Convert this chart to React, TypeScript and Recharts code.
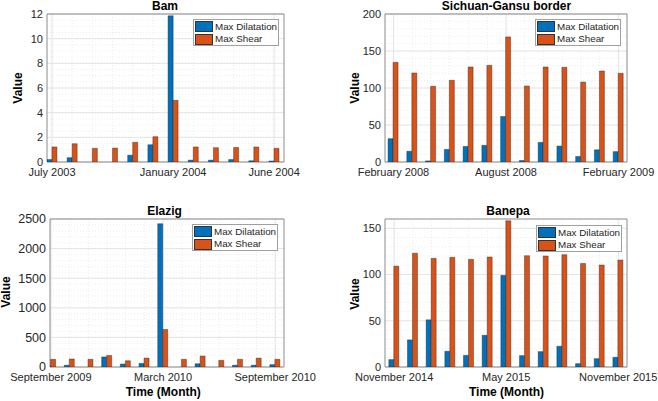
import React from 'react';
import { BarChart, Bar, XAxis, YAxis, CartesianGrid } from 'recharts';

const BLUE = '#0072BD';
const ORANGE = '#D95319';
const TEXT = '#262626';
const FONT = '"Liberation Sans", Arial, Helvetica, sans-serif';

// Bam
const bamMonths = ['July 2003', 'August 2003', 'September 2003', 'October 2003', 'November 2003', 'December 2003', 'January 2004', 'February 2004', 'March 2004', 'April 2004', 'May 2004', 'June 2004'];
const bamDilatation = [0.2, 0.35, 0, 0, 0.55, 1.4, 11.85, 0.15, 0.15, 0.2, 0.1, 0.08];
const bamShear = [1.22, 1.48, 1.11, 1.13, 1.6, 2.05, 5.0, 1.22, 1.16, 1.18, 1.22, 1.11];
const bamXTicks = [0, 6, 11];
const bamYTicks = [0, 2, 4, 6, 8, 10, 12];

// Sichuan-Gansu border
const sichuanMonths = ['February 2008', 'March 2008', 'April 2008', 'May 2008', 'June 2008', 'July 2008', 'August 2008', 'September 2008', 'October 2008', 'November 2008', 'December 2008', 'January 2009', 'February 2009'];
const sichuanDilatation = [31.5, 14.5, 1.5, 17, 21, 22.5, 61.5, 2, 26.5, 21.5, 7.5, 16.5, 14];
const sichuanShear = [134.7, 120.3, 102.3, 110.4, 128.4, 130.6, 169, 102.7, 128.4, 128, 108, 123, 119.8];
const sichuanXTicks = [0, 6, 12];
const sichuanYTicks = [0, 50, 100, 150, 200];

// Elazig
const elazigMonths = ['September 2009', 'October 2009', 'November 2009', 'December 2009', 'January 2010', 'February 2010', 'March 2010', 'April 2010', 'May 2010', 'June 2010', 'July 2010', 'August 2010', 'September 2010'];
const elazigDilatation = [20, 30, 0, 170, 50, 60, 2420, 0, 55, 0, 30, 30, 40];
const elazigShear = [130, 135, 130, 195, 105, 150, 633, 130, 185, 112, 130, 150, 130];
const elazigXTicks = [0, 6, 12];
const elazigYTicks = [0, 500, 1000, 1500, 2000, 2500];

// Banepa
const banepaMonths = ['November 2014', 'December 2014', 'January 2015', 'February 2015', 'March 2015', 'April 2015', 'May 2015', 'June 2015', 'July 2015', 'August 2015', 'September 2015', 'October 2015', 'November 2015'];
const banepaDilatation = [8, 29.3, 51, 17, 12.6, 34.3, 99, 12.3, 16.6, 22.4, 3.6, 9, 10.5];
const banepaShear = [109, 123, 117.5, 118.5, 116.4, 118.9, 158, 120.3, 120, 121.4, 112, 110.2, 115.6];
const banepaXTicks = [0, 6, 12];
const banepaYTicks = [0, 50, 100, 150];

const steps = (lo: number, hi: number, step: number) => {
  const out: number[] = [];
  for (let v = lo; v <= hi + 1e-9; v += step) out.push(+v.toFixed(6));
  return out;
};

interface PanelProps {
  x: number;
  y: number;
  width: number;
  height: number;
  margin: { top: number; right: number; bottom: number; left: number };
  yAxisWidth: number;
  xAxisHeight: number;
  months: string[];
  dilatation: number[];
  shear: number[];
  xDomain: [number, number];
  xTicks: number[];
  yDomain: [number, number];
  yTicks: number[];
  yMinor: number;
  yFontSize?: number;
}

const Panel: React.FC<PanelProps> = (p) => {
  const data = p.months.map((m, i) => ({ idx: i, month: m, dilatation: p.dilatation[i], shear: p.shear[i] }));
  const tickStyle = { fontSize: 11, fill: TEXT, fontFamily: FONT };
  return (
    <div style={{ position: 'absolute', left: p.x, top: p.y }}>
      <BarChart width={p.width} height={p.height} data={data} margin={p.margin} barGap={0}>
        <CartesianGrid
          stroke="#ededed"
          strokeDasharray="1 2"
          horizontalValues={steps(p.yDomain[0], p.yDomain[1], p.yMinor)}
          verticalValues={data.map(d => d.idx)}
        />
        <CartesianGrid stroke="#e4e4e4" horizontalValues={p.yTicks} verticalValues={p.xTicks} />
        <CartesianGrid stroke="#8c8c8c" horizontalValues={p.yDomain} verticalValues={p.xDomain} />
        <XAxis
          type="number"
          dataKey="idx"
          domain={p.xDomain}
          ticks={p.xTicks}
          interval={0}
          allowDataOverflow
          tickFormatter={(v) => p.months[v]}
          tickLine={false}
          axisLine={false}
          tickSize={6}
          tickMargin={0}
          height={p.xAxisHeight}
          tick={tickStyle}
        />
        <YAxis
          type="number"
          domain={p.yDomain}
          ticks={p.yTicks}
          interval={0}
          allowDataOverflow
          tickLine={false}
          axisLine={false}
          tickSize={4}
          tickMargin={0}
          width={p.yAxisWidth}
          tick={{ ...tickStyle, fontSize: p.yFontSize ?? 11 }}
        />
        <Bar dataKey="dilatation" name="Max Dilatation" fill={BLUE} stroke="#1e1e1e" strokeWidth={0.4} barSize={5} isAnimationActive={false} />
        <Bar dataKey="shear" name="Max Shear" fill={ORANGE} stroke="#1e1e1e" strokeWidth={0.4} barSize={5} isAnimationActive={false} />
      </BarChart>
    </div>
  );
};

const LegendBox: React.FC<{ x: number; y: number }> = ({ x, y }) => {
  const row = (color: string, label: string) => (
    <div style={{ display: 'flex', alignItems: 'center', height: 12.5, whiteSpace: 'nowrap' }}>
      <div style={{ flex: 'none', width: 18, height: 11, marginLeft: 1, background: color, border: '0.5px solid #333', boxSizing: 'border-box' }} />
      <span style={{ flex: 'none', marginLeft: 2, fontSize: 9.8, color: TEXT, lineHeight: '12px' }}>{label}</span>
    </div>
  );
  return (
    <div style={{ position: 'absolute', left: x, top: y, width: 86, height: 27, border: '1px solid #a0a0a0', background: '#fff', boxSizing: 'border-box', paddingTop: 0.5, overflow: 'hidden' }}>
      {row(BLUE, 'Max Dilatation')}
      {row(ORANGE, 'Max Shear')}
    </div>
  );
};

export default function App() {
  const bold = { fontFamily: FONT, fontSize: 12, fontWeight: 'bold' as const, fill: '#000' };
  return (
    <div style={{ position: 'absolute', left: 0, top: 0, width: 658, height: 401, background: '#fff', overflow: 'hidden', fontFamily: FONT }}>
      <Panel x={0} y={0} width={329} height={200} margin={{ top: 14, right: 45, bottom: 0, left: 0 }} yAxisWidth={47} xAxisHeight={38}
        months={bamMonths} dilatation={bamDilatation} shear={bamShear} xDomain={[-0.25, 11.49]} xTicks={bamXTicks}
        yDomain={[0, 12]} yTicks={bamYTicks} yMinor={0.5} />
      <Panel x={329} y={0} width={329} height={200} margin={{ top: 14, right: 31, bottom: 0, left: 0 }} yAxisWidth={56} xAxisHeight={38}
        months={sichuanMonths} dilatation={sichuanDilatation} shear={sichuanShear} xDomain={[-0.45, 12.45]} xTicks={sichuanXTicks}
        yDomain={[0, 200]} yTicks={sichuanYTicks} yMinor={10} />
      <Panel x={0} y={200} width={329} height={201} margin={{ top: 19, right: 45, bottom: 0, left: 0 }} yAxisWidth={50} xAxisHeight={34}
        months={elazigMonths} dilatation={elazigDilatation} shear={elazigShear} xDomain={[-0.05, 12.47]} xTicks={elazigXTicks}
        yDomain={[0, 2500]} yTicks={elazigYTicks} yMinor={100} yFontSize={12.5} />
      <Panel x={329} y={200} width={329} height={201} margin={{ top: 19, right: 31, bottom: 0, left: 0 }} yAxisWidth={56} xAxisHeight={34}
        months={banepaMonths} dilatation={banepaDilatation} shear={banepaShear} xDomain={[-0.49, 12.47]} xTicks={banepaXTicks}
        yDomain={[0, 160]} yTicks={banepaYTicks} yMinor={10} />

      <LegendBox x={193} y={19} />
      <LegendBox x={535} y={19} />
      <LegendBox x={192} y={224} />
      <LegendBox x={536} y={225} />

      <svg width={658} height={401} style={{ position: 'absolute', left: 0, top: 0, pointerEvents: 'none' }}>
        <text x={165} y={6} textAnchor="middle" dominantBaseline="central" {...bold}>Bam</text>
        <text x={506.5} y={6} textAnchor="middle" dominantBaseline="central" {...bold}>Sichuan-Gansu border</text>
        <text x={164.5} y={210.8} textAnchor="middle" dominantBaseline="central" {...bold}>Elazig</text>
        <text x={508} y={210.8} textAnchor="middle" dominantBaseline="central" {...bold}>Banepa</text>

        <text transform="translate(18.3,88) rotate(-90)" textAnchor="middle" dominantBaseline="central" {...bold}>Value</text>
        <text transform="translate(354.7,88) rotate(-90)" textAnchor="middle" dominantBaseline="central" {...bold}>Value</text>
        <text transform="translate(6,292) rotate(-90)" textAnchor="middle" dominantBaseline="central" {...bold}>Value</text>
        <text transform="translate(354.7,294) rotate(-90)" textAnchor="middle" dominantBaseline="central" {...bold}>Value</text>

        <text x={163.3} y={392} textAnchor="middle" dominantBaseline="central" {...bold}>Time (Month)</text>
        <text x={506.5} y={392} textAnchor="middle" dominantBaseline="central" {...bold}>Time (Month)</text>
      </svg>
    </div>
  );
}
